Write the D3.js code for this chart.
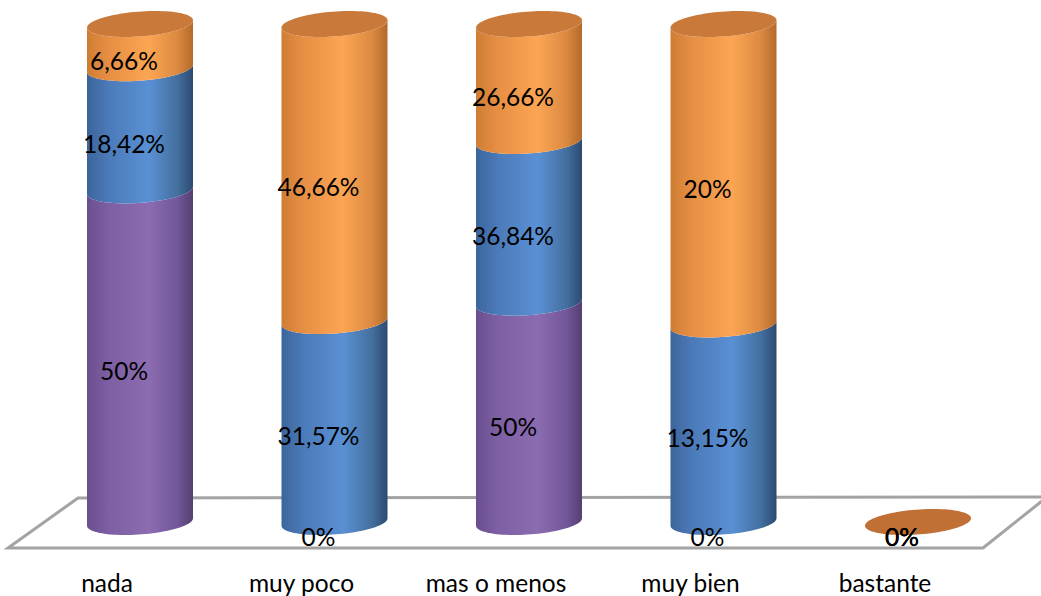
<!DOCTYPE html>
<html>
<head>
<meta charset="utf-8">
<script src="https://cdn.jsdelivr.net/npm/d3@7"></script>
<style>
  html, body { margin: 0; padding: 0; background: #ffffff; }
  svg { display: block; }
  text { font-family: Lato, "Open Sans", sans-serif; fill: #000; }
</style>
</head>
<body>
<svg id="chart" width="1041" height="596"></svg>
<script>
// Categories along the floor
const categories = ["nada", "muy poco", "mas o menos", "muy bien", "bastante"];
// Stacked series, bottom to top (percent values)
const seriesBottom = [50, 0, 50, 0, 0];
const seriesMiddle = [18.42, 31.57, 36.84, 13.15, 0];
const seriesTop    = [6.66, 46.66, 26.66, 20, 0];
const seriesKeys   = ["bottom", "middle", "top"];

const svg = d3.select("#chart");

// Table for d3.stack
const table = categories.map((c, i) => ({
  cat: c,
  bottom: seriesBottom[i],
  middle: seriesMiddle[i],
  top: seriesTop[i]
}));

// 100% stacked layout; empty columns collapse to zero height
const stacked = d3.stack().keys(seriesKeys)(table).map(layer => {
  layer.forEach(seg => {
    const total = seriesKeys.reduce((s, k) => s + seg.data[k], 0);
    seg.f0 = total ? seg[0] / total : 0;
    seg.f1 = total ? seg[1] / total : 0;
  });
  return layer;
});

const x = d3.scalePoint().domain(categories).range([140, 918]);
const y = d3.scaleLinear().domain([0, 1]).range([522, 24]);

const rx = 53, ry = 12.5, shear = -0.07;   // cylinder cross-section
const labelDx = -16, labelDy = 14;

// Colour gradients for the cylinder bodies
const defs = svg.append("defs");
const palettes = {
  bottom: [["0%", "#6a4f90"], ["20%", "#7d5fa3"], ["58%", "#8c6cb1"], ["85%", "#72579a"], ["100%", "#553f70"]],
  middle: [["0%", "#3c659c"], ["20%", "#4b7ab8"], ["58%", "#5a90d4"], ["85%", "#44709f"], ["100%", "#2c4a72"]],
  top:    [["0%", "#cf7d34"], ["20%", "#e68f44"], ["58%", "#fca553"], ["85%", "#dc8a42"], ["100%", "#b46a2a"]]
};
Object.entries(palettes).forEach(([k, stops]) => {
  const g = defs.append("linearGradient").attr("id", "grad-" + k)
    .attr("x1", "0%").attr("x2", "100%").attr("y1", "0%").attr("y2", "0%");
  stops.forEach(([o, c]) => g.append("stop").attr("offset", o).attr("stop-color", c));
});
const capColour = "#c97a3b";

// Floor plane
const floor = [[78, 498], [1047, 497], [983, 548], [8, 548]];
svg.append("polygon")
  .attr("points", floor.map(p => p.join(",")).join(" "))
  .attr("fill", "#ffffff")
  .attr("stroke", "#a3a3a3")
  .attr("stroke-width", 3)
  .attr("stroke-linejoin", "miter");

// Ellipse helpers (sheared so the sides stay vertical)
const thetas = d3.range(0, 181, 4).map(d => d * Math.PI / 180);
function ellipsePoint(cx, cy, t) {
  return [cx + rx * Math.cos(t), cy + ry * Math.sin(t) + shear * rx * Math.cos(t)];
}
function lowerArc(cx, cy, reverse) {
  const ts = reverse ? thetas.slice().reverse() : thetas;
  return ts.map(t => ellipsePoint(cx, cy, t));
}
function fullEllipse(cx, cy) {
  const pts = d3.range(0, 360, 4).map(d => ellipsePoint(cx, cy, d * Math.PI / 180));
  return "M" + pts.map(p => p.join(",")).join("L") + "Z";
}
function segmentPath(cx, yb, yt) {
  const top = lowerArc(cx, yt, false);     // right -> left along the upper boundary
  const bottom = lowerArc(cx, yb, true);   // left -> right along the lower boundary
  const pts = top.concat(bottom);
  return "M" + pts.map(p => p.join(",")).join("L") + "Z";
}

const columns = svg.append("g");
categories.forEach((cat, i) => {
  const cx = x(cat);
  const g = columns.append("g");
  let topFrac = 0;
  stacked.forEach(layer => {
    const seg = layer[i];
    if (seg.f1 > seg.f0) {
      g.append("path")
        .attr("d", segmentPath(cx, y(seg.f0), y(seg.f1)))
        .attr("fill", `url(#grad-${layer.key})`);
      topFrac = seg.f1;
    }
  });
  g.append("path")
    .attr("d", fullEllipse(cx, y(topFrac)))
    .attr("fill", topFrac > 0 ? capColour : "#c07035");
});

// Value labels
const fmt = v => String(v).replace(".", ",") + "%";
const labels = svg.append("g").attr("font-size", 24.5);
stacked.forEach(layer => {
  layer.forEach((seg, i) => {
    const cat = categories[i];
    const v = seg.data[layer.key];
    const mid = (seg.f0 + seg.f1) / 2;
    labels.append("text")
      .attr("x", x(cat) + labelDx)
      .attr("y", y(mid) + labelDy)
      .attr("text-anchor", "middle")
      .attr("dominant-baseline", "central")
      .text(fmt(v));
  });
});

// Category labels
svg.append("g").attr("font-size", 24.5)
  .selectAll("text").data(categories).join("text")
  .attr("x", d => x(d) - 33)
  .attr("y", 582)
  .attr("text-anchor", "middle")
  .attr("dominant-baseline", "central")
  .text(d => d);
</script>
</body>
</html>
